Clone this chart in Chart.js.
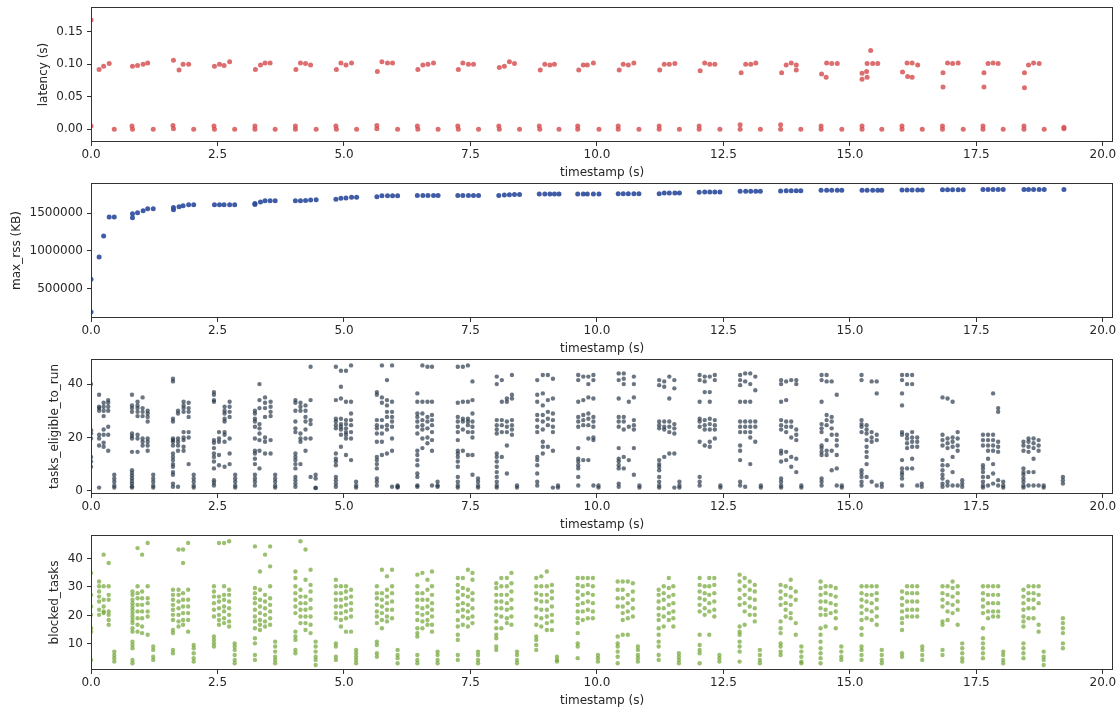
<!DOCTYPE html>
<html>
<head>
<meta charset="utf-8">
<script src="https://cdn.jsdelivr.net/npm/chart.js@4.4.1/dist/chart.umd.min.js"></script>
<style>
  html, body { margin: 0; padding: 0; background: #fff; }
  #wrap { position: relative; width: 1119px; height: 708px; overflow: hidden; }
  .panel { position: absolute; left: 0; width: 1119px; height: 180px; }
</style>
</head>
<body>
<div id="wrap">
  <div class="panel" style="top:0px"><canvas id="latencyChart" width="1119" height="180"></canvas></div>
  <div class="panel" style="top:176px"><canvas id="rssChart" width="1119" height="180"></canvas></div>
  <div class="panel" style="top:352px"><canvas id="eligibleChart" width="1119" height="180"></canvas></div>
  <div class="panel" style="top:528px"><canvas id="blockedChart" width="1119" height="180"></canvas></div>
</div>
<script>
// shared x axis
const xTicks = [0, 2.5, 5, 7.5, 10, 12.5, 15, 17.5, 20];

// latency (s): [timestamp, value]
const latencyTicks = [0, 0.05, 0.1, 0.15];
const latencyPoints = [
  [0.0, 0.168], [0.0, 0.005], [0.16, 0.092], [0.25, 0.097], [0.36, 0.101], [0.46, 0.0],
  [0.81, 0.005], [0.82, 0.0], [0.82, 0.097], [0.92, 0.098], [1.03, 0.1], [1.12, 0.102], [1.23, 0.0],
  [1.62, 0.006], [1.63, 0.001], [1.63, 0.106], [1.74, 0.091], [1.82, 0.1], [1.93, 0.1], [2.03, 0.0],
  [2.43, 0.005], [2.44, 0.0], [2.44, 0.097], [2.54, 0.1], [2.63, 0.098], [2.74, 0.104], [2.84, 0.0],
  [3.24, 0.005], [3.24, 0.0], [3.25, 0.092], [3.35, 0.099], [3.44, 0.102], [3.54, 0.102], [3.64, 0.0],
  [4.04, 0.005], [4.04, 0.0], [4.05, 0.092], [4.14, 0.102], [4.24, 0.101], [4.34, 0.099], [4.45, 0.0],
  [4.84, 0.005], [4.85, 0.0], [4.85, 0.092], [4.94, 0.102], [5.04, 0.099], [5.15, 0.102], [5.25, 0.0],
  [5.65, 0.006], [5.65, 0.001], [5.66, 0.089], [5.75, 0.104], [5.86, 0.102], [5.96, 0.102], [6.06, 0.0],
  [6.45, 0.005], [6.46, 0.0], [6.46, 0.092], [6.56, 0.099], [6.66, 0.1], [6.77, 0.102], [6.86, 0.0],
  [7.25, 0.005], [7.26, 0.0], [7.26, 0.092], [7.35, 0.102], [7.46, 0.1], [7.56, 0.1], [7.66, 0.0],
  [8.06, 0.005], [8.07, 0.0], [8.07, 0.095], [8.17, 0.097], [8.27, 0.104], [8.37, 0.101], [8.47, 0.0],
  [8.86, 0.005], [8.87, 0.0], [8.88, 0.091], [8.97, 0.1], [9.07, 0.099], [9.16, 0.1], [9.25, 0.0],
  [9.62, 0.005], [9.62, 0.0], [9.64, 0.091], [9.73, 0.099], [9.81, 0.099], [9.93, 0.102], [10.04, 0.0],
  [10.42, 0.005], [10.42, 0.0], [10.44, 0.091], [10.52, 0.1], [10.62, 0.099], [10.73, 0.102], [10.83, 0.0],
  [11.23, 0.005], [11.23, 0.0], [11.24, 0.091], [11.33, 0.1], [11.43, 0.1], [11.54, 0.101], [11.63, 0.0],
  [12.02, 0.005], [12.02, 0.0], [12.04, 0.09], [12.13, 0.102], [12.23, 0.1], [12.33, 0.1], [12.43, 0.0],
  [12.83, 0.007], [12.83, 0.0], [12.85, 0.087], [12.94, 0.1], [13.04, 0.1], [13.14, 0.102], [13.23, 0.0],
  [13.63, 0.007], [13.63, 0.0], [13.65, 0.087], [13.74, 0.099], [13.84, 0.102], [13.94, 0.099], [13.94, 0.091], [14.03, 0.0],
  [14.43, 0.005], [14.43, 0.0], [14.44, 0.085], [14.53, 0.08], [14.54, 0.102], [14.64, 0.101], [14.75, 0.101], [14.84, 0.0],
  [15.24, 0.005], [15.24, 0.0], [15.24, 0.086], [15.24, 0.077], [15.33, 0.089], [15.34, 0.08], [15.34, 0.101],
  [15.41, 0.121], [15.45, 0.101], [15.55, 0.101], [15.63, 0.0],
  [16.03, 0.005], [16.03, 0.0], [16.04, 0.088], [16.13, 0.102], [16.14, 0.081], [16.23, 0.08], [16.23, 0.102], [16.34, 0.099], [16.43, 0.0],
  [16.83, 0.005], [16.83, 0.0], [16.84, 0.087], [16.84, 0.065], [16.93, 0.102], [17.03, 0.101], [17.14, 0.102], [17.24, 0.0],
  [17.63, 0.005], [17.63, 0.0], [17.65, 0.087], [17.65, 0.065], [17.73, 0.101], [17.83, 0.102], [17.93, 0.101], [18.03, 0.0],
  [18.44, 0.005], [18.44, 0.0], [18.45, 0.087], [18.45, 0.064], [18.53, 0.099], [18.63, 0.102], [18.74, 0.101], [18.84, 0.0],
  [19.23, 0.003], [19.23, 0.001],
];

// max_rss (KB): [timestamp, value]
const rssTicks = [500000, 1000000, 1500000];
const rssPoints = [
  [0.0, 197000], [0.0, 627000], [0.16, 921000], [0.25, 1197000], [0.36, 1447000], [0.46, 1447000],
  [0.82, 1439000], [0.82, 1491000], [0.92, 1504000], [1.03, 1531000], [1.12, 1557000], [1.23, 1557000],
  [1.63, 1544000], [1.63, 1574000], [1.74, 1583000], [1.82, 1596000], [1.93, 1610000], [2.03, 1610000],
  [2.44, 1610000], [2.54, 1610000], [2.63, 1610000], [2.74, 1610000], [2.84, 1610000],
  [3.24, 1612000], [3.24, 1625000], [3.35, 1645000], [3.44, 1662000], [3.54, 1662000], [3.64, 1662000],
  [4.04, 1662000], [4.14, 1662000], [4.24, 1666000], [4.34, 1670000], [4.45, 1675000],
  [4.84, 1680000], [4.94, 1693000], [5.04, 1697000], [5.15, 1706000], [5.25, 1706000],
  [5.65, 1715000], [5.75, 1728000], [5.86, 1728000], [5.96, 1728000], [6.06, 1728000],
  [6.45, 1732000], [6.56, 1732000], [6.66, 1732000], [6.77, 1732000], [6.86, 1732000],
  [7.25, 1732000], [7.35, 1732000], [7.46, 1732000], [7.56, 1732000], [7.66, 1732000],
  [8.06, 1732000], [8.17, 1737000], [8.27, 1741000], [8.37, 1745000], [8.47, 1745000],
  [8.86, 1750000], [8.97, 1750000], [9.07, 1750000], [9.16, 1750000], [9.25, 1750000],
  [9.62, 1750000], [9.73, 1750000], [9.81, 1750000], [9.93, 1750000], [10.04, 1750000],
  [10.42, 1752000], [10.52, 1754000], [10.62, 1754000], [10.73, 1754000], [10.83, 1754000],
  [11.23, 1754000], [11.33, 1763000], [11.43, 1763000], [11.54, 1763000], [11.63, 1763000],
  [12.02, 1772000], [12.13, 1776000], [12.23, 1776000], [12.33, 1776000], [12.43, 1776000],
  [12.83, 1785000], [12.94, 1785000], [13.04, 1785000], [13.14, 1785000], [13.23, 1785000],
  [13.63, 1790000], [13.74, 1794000], [13.84, 1794000], [13.94, 1794000], [14.03, 1794000],
  [14.43, 1798000], [14.54, 1798000], [14.64, 1798000], [14.75, 1798000], [14.84, 1798000],
  [15.24, 1798000], [15.34, 1798000], [15.45, 1798000], [15.55, 1798000], [15.63, 1798000],
  [16.03, 1803000], [16.13, 1803000], [16.23, 1803000], [16.34, 1803000], [16.43, 1803000],
  [16.83, 1807000], [16.93, 1807000], [17.03, 1807000], [17.14, 1807000], [17.24, 1807000],
  [17.63, 1811000], [17.73, 1811000], [17.83, 1811000], [17.93, 1811000], [18.03, 1811000],
  [18.44, 1811000], [18.53, 1811000], [18.63, 1811000], [18.74, 1811000], [18.84, 1811000],
  [19.23, 1811000],
];

// tasks_eligible_to_run: one timestamp per column, values per column
const eligibleTicks = [0, 20, 40];
const eligibleTimes = [
  0.0, 0.16, 0.25, 0.34, 0.46,
  0.81, 0.92, 1.02, 1.12, 1.23,
  1.62, 1.72, 1.83, 1.93, 2.03,
  2.43, 2.53, 2.64, 2.74, 2.85,
  3.24, 3.33, 3.44, 3.55, 3.64,
  4.04, 4.14, 4.24, 4.34, 4.44,
  4.84, 4.94, 5.04, 5.14, 5.24,
  5.65, 5.75, 5.85, 5.95, 6.06,
  6.45, 6.55, 6.65, 6.74, 6.85,
  7.25, 7.35, 7.45, 7.54, 7.65,
  8.02, 8.12, 8.22, 8.32, 8.42,
  8.82, 8.93, 9.03, 9.13, 9.23,
  9.63, 9.73, 9.83, 9.93, 10.03,
  10.43, 10.53, 10.63, 10.73, 10.84,
  11.23, 11.33, 11.43, 11.53, 11.63,
  12.03, 12.13, 12.23, 12.33, 12.44,
  12.83, 12.93, 13.03, 13.13, 13.24,
  13.64, 13.74, 13.84, 13.94, 14.04,
  14.44, 14.54, 14.64, 14.74, 14.84,
  15.23, 15.33, 15.43, 15.53, 15.63,
  16.03, 16.13, 16.23, 16.33, 16.42,
  16.83, 16.93, 17.03, 17.13, 17.22,
  17.63, 17.73, 17.83, 17.93, 18.03,
  18.43, 18.53, 18.63, 18.73, 18.83,
  19.21,
];
const eligibleCols = [
  [40, 22.7, 21.5, 19.6, 12.7, 11, 9],
  [36, 31.5, 31, 30, 21, 19.6, 17, 1.2],
  [33, 31.5, 30, 28, 23, 21, 18, 16.5],
  [34, 33, 31.5, 30, 24, 21, 15],
  [6, 4.6, 3.4, 2, 1.2],
  [36, 32, 31, 29.6, 21.5, 20.5, 19.6, 14.6, 7.7, 6.7, 5.7, 4.7, 3.7, 2.7, 1.7, 1.2],
  [33.4, 32, 31, 29.6, 28, 21, 19.6, 14.6],
  [35, 31, 29.6, 28, 19.6, 18.4, 17],
  [30, 29, 27.7, 26, 19.6, 18.4, 17, 15],
  [6, 4.6, 3.4, 2, 1.2],
  [42, 41, 27, 26, 19.6, 19, 18.4, 17, 14, 12.7, 11.5, 10, 9, 7, 6, 2.7, 1.5],
  [30, 29, 19.6, 18.4, 17, 15, 1.5],
  [33.4, 32, 31, 29.6, 22, 20, 19, 16.5, 15],
  [33, 31, 29.6, 27.7, 22, 20, 10],
  [6, 4.6, 3.4, 2, 1.2],
  [37, 36, 34, 33.4, 19, 18, 16, 14, 12.7, 11, 8.4, 4, 3, 2],
  [22, 19.6, 18.4, 13.4, 9.6],
  [31.5, 30, 29, 27, 26, 22, 21, 18.4, 9],
  [33.4, 31.5, 29.6, 27.7, 19.6, 14, 10],
  [6, 4.6, 3.4, 2, 1.2],
  [30, 29, 27, 26, 24, 19.6, 15, 14, 12, 10, 6, 4.6, 3.4, 2],
  [40, 34, 31, 25, 23.4, 21.5, 19, 15, 8.4],
  [35, 33, 31, 27.7, 20, 18.4, 14],
  [33.4, 31.5, 29.6, 28, 19, 14],
  [6, 4.6, 3.4, 2, 1.2],
  [34, 33, 30, 26, 23.4, 22, 14, 12.7, 11.5, 10, 8.4, 5.2, 4, 2.7, 1.5],
  [33, 31.5, 30, 21.5, 19.6, 18.4, 10],
  [32, 30, 27.7, 26, 23, 19.6, 15],
  [46.5, 34, 26.5, 25, 19.6, 5.2],
  [6, 4.6, 1.2, 1],
  [46.5, 34, 27, 26, 24.6, 23.4, 14, 12, 11, 9.6, 5.2, 4, 2.7, 1.5],
  [45, 39, 34.6, 27, 25, 24, 23, 21, 16.5],
  [45, 33.4, 26.5, 25, 23.4, 22, 21, 19.6, 13.4],
  [47, 33.4, 29, 26.5, 24.6, 22, 19.6, 11.5],
  [3.4, 2, 1.2],
  [37, 36, 26.5, 24.6, 23.4, 21.5, 18.4, 12.7, 11.5, 10, 8.4, 4.6, 3.4, 2],
  [47, 35, 33, 26.5, 24, 21.5, 18.4, 13.4],
  [41.5, 34, 32, 29.6, 27.7, 24.6, 23, 14],
  [47, 33.4, 29.6, 27.7, 26, 24, 19.6, 15, 1.5],
  [2, 1.5, 1.2],
  [36.5, 33.4, 29, 27.7, 26, 24, 21.5, 15, 13.4, 11.5, 9.6, 6.5, 5.2, 2, 1.5],
  [47, 33.4, 29, 26.5, 24.6, 23, 19.6, 16],
  [46.5, 33.4, 27.7, 26, 23.4, 20, 17.8],
  [46.5, 33.4, 28.4, 26.5, 24.6, 22, 19, 15, 2],
  [3.4, 2, 1.5],
  [46.5, 33, 27.7, 26, 24, 22, 19, 15, 14, 12.7, 11, 9, 5.2, 3.4, 2, 1.2],
  [46.5, 33.4, 27, 26, 23, 15],
  [47, 33.4, 27, 26, 24.6, 22, 13.4],
  [41, 34, 29, 26, 24, 22, 20, 13.4, 6],
  [4.6, 3.4, 2, 1.2],
  [42.8, 40, 26.5, 24.6, 23, 21.5, 14, 12.7, 11, 9, 7, 5.2, 3.4, 2, 1.2],
  [41.5, 33.4, 26.5, 24.6, 22, 12.7],
  [34.6, 33.4, 26, 24, 22, 17, 6.5],
  [43.4, 36, 34.6, 26.5, 24.6, 23, 21],
  [2, 1.2],
  [41.5, 36, 33.4, 28.4, 26.5, 24, 22, 12.7, 11.5, 9.6, 6.5, 3.4, 2],
  [43.4, 36.5, 32, 28.4, 26, 23, 18.4, 16.5, 14],
  [43.4, 34, 29.6, 27, 24.6, 16.5],
  [42, 34.6, 29, 26.5, 24, 22, 15, 1.2],
  [2, 1.2],
  [43.4, 41.5, 33.4, 27.7, 26, 24, 16, 12, 11, 9.6, 8.4, 5.2, 2],
  [42.8, 34, 28.4, 26.5, 24.6, 11.5],
  [42.8, 40, 35, 29, 27, 24.6, 19.6, 11.5],
  [43.4, 41.5, 34.6, 27.7, 26, 24, 20, 19, 2],
  [2, 1.2],
  [44, 41.5, 34.6, 27.7, 26, 24, 16, 12, 11, 9.6, 8.4, 2.7, 1.5],
  [44, 42, 40, 27.7, 26, 23, 12.7, 8.4],
  [33.4, 24, 11.5],
  [42.8, 40, 35, 26.5, 24.6, 23, 16, 6],
  [2, 1.2],
  [41.5, 39.6, 26, 24.6, 23.4, 11.5, 10, 9, 7.7, 5.2, 3.4, 2, 1.2],
  [41, 39, 26, 24, 23, 12.7],
  [42.8, 34.6, 26, 24, 22, 14],
  [41.5, 38.4, 25, 23.4, 21.5, 14, 1.2],
  [3.4, 2, 1.2],
  [43.4, 41.5, 33.4, 27, 26, 24, 18.4, 5.2, 3.4, 2],
  [42.8, 41, 37, 26.5, 24.6, 23, 17],
  [42.8, 37, 33.4, 27, 25, 23, 18.4, 16.5],
  [43.4, 41.5, 26.5, 24.6, 23, 19.6],
  [2, 1.2],
  [43.4, 41.5, 39.6, 33.4, 26, 24, 22, 17, 15, 11.5, 3.4, 2],
  [44, 41, 33.4, 26, 24, 22, 1.5],
  [44, 40, 33.4, 26, 24, 22, 20, 10],
  [42.8, 37.7, 26, 24, 18.4],
  [2, 1.2],
  [41.5, 40, 33.4, 26.5, 24.6, 23, 15, 14, 11, 4.6, 3.4, 2, 1.2],
  [41, 34, 26, 24, 22, 14.6, 11.5],
  [41.5, 26, 24, 20, 12.7, 9],
  [41.5, 40, 23, 21, 19, 12, 7],
  [2, 1.2],
  [43.4, 41.5, 33.4, 25, 23.4, 22, 17, 16, 14.6, 13.4, 4.6, 3.4, 2],
  [43.4, 41, 28.4, 26.5, 24.6, 19, 15, 13.4],
  [41, 27.7, 26, 23.4, 21, 15, 7.7],
  [36, 21, 19, 17, 13.4, 8.4, 2],
  [2, 1.2],
  [43.4, 41.5, 26.5, 25, 24, 22, 7.7, 6.5, 5.2, 3.4, 2],
  [24.6, 23, 21.5, 19, 16.5, 14.6, 12.7, 10, 5.2],
  [41, 22, 20, 18.4, 3.4],
  [41, 36.5, 21, 19, 2],
  [2.7, 1.5],
  [43.4, 41.5, 36.5, 32, 22, 21, 11.5, 8.4, 7, 6, 4.6, 2],
  [43.4, 40, 21, 19.6, 17.8, 16, 8.4],
  [43.4, 40, 22, 20, 18.4, 16.5, 12, 8.4],
  [20, 18.4, 16.5, 2],
  [2.7, 1.5],
  [35, 21, 19, 17, 11.5, 9.6, 7.7, 6, 4.6, 2.7, 1.5],
  [34.6, 19.6, 17.8, 16, 9.6, 3.4, 2],
  [33.4, 20, 18.4, 16.5, 12.7, 7, 2],
  [22, 19.6, 17, 15, 2],
  [4, 2.7, 1.5],
  [21, 19, 17, 9.6, 8.4, 7, 5.2, 3.4, 2, 1.2],
  [21, 19, 17, 15, 12, 5.2, 2],
  [36.5, 21, 19, 17, 15, 10, 6.5, 2.7],
  [31, 29.6, 18.4, 16.5, 14.6, 4, 2],
  [3.4, 2, 1.2],
  [18.4, 17, 15, 8.4, 7, 6, 4.6, 3.4, 2, 1.2],
  [19.6, 18.4, 16.5, 14.6, 7, 2],
  [19.6, 17.8, 16, 12, 7, 2],
  [19, 17, 15, 2],
  [2, 1.2],
  [5.2, 4, 2.7],
];

// blocked_tasks: one timestamp per column, values per column
const blockedTicks = [10, 20, 30, 40];
const blockedTimes = [
  0.0, 0.16, 0.25, 0.35, 0.46,
  0.82, 0.92, 1.01, 1.12, 1.23,
  1.62, 1.73, 1.82, 1.92, 2.03,
  2.43, 2.53, 2.63, 2.73, 2.84,
  3.24, 3.34, 3.44, 3.54, 3.64,
  4.04, 4.14, 4.24, 4.34, 4.44,
  4.84, 4.94, 5.04, 5.14, 5.24,
  5.65, 5.75, 5.85, 5.95, 6.06,
  6.45, 6.55, 6.65, 6.74, 6.85,
  7.25, 7.35, 7.45, 7.54, 7.65,
  8.01, 8.11, 8.22, 8.31, 8.42,
  8.80, 8.90, 9.01, 9.11, 9.21,
  9.62, 9.72, 9.82, 9.92, 10.02,
  10.41, 10.51, 10.61, 10.71, 10.81,
  11.22, 11.32, 11.42, 11.51, 11.62,
  12.03, 12.13, 12.22, 12.32, 12.42,
  12.82, 12.92, 13.02, 13.12, 13.22,
  13.63, 13.73, 13.83, 13.93, 14.04,
  14.42, 14.52, 14.62, 14.72, 14.83,
  15.23, 15.33, 15.43, 15.53, 15.63,
  16.03, 16.13, 16.23, 16.33, 16.43,
  16.83, 16.93, 17.03, 17.13, 17.22,
  17.63, 17.73, 17.83, 17.93, 18.03,
  18.43, 18.53, 18.63, 18.73, 18.83,
  19.21,
];
const blockedCols = [
  [34.9, 27.2, 23.1, 20.2, 15.5, 14.3, 4.4],
  [31.9, 30.2, 28.4, 26.6, 24.9, 22, 20.2],
  [41.3, 30.2, 25.5, 23.1, 21.4, 20.8],
  [38.4, 30.2, 27.2, 25.5, 21.4, 20.2, 18.4, 16.7],
  [7.3, 6.1, 5, 3.8],
  [28.4, 27.2, 25.5, 24.3, 23.1, 22, 20.8, 19.6, 18.4, 17.3, 15.5, 14.3, 10.8, 9.6, 8.5, 4.4, 3.2],
  [43.6, 30.2, 27.8, 26, 23.7, 21.4, 19, 16.7, 14.3],
  [41.3, 28.4, 26, 23.7, 21.4, 19, 16.1, 13.8],
  [45.4, 30.2, 26, 24.3, 21.4, 19.6, 13.2],
  [9.1, 7.9, 5.5, 4.4],
  [29, 27.2, 25.5, 23.7, 22, 20.2, 18.4, 14.9, 13.8, 7.9, 6.7],
  [43.1, 29, 27.2, 24.9, 22.5, 20.2, 17.9, 16.1],
  [43.1, 38.4, 27.8, 25.5, 23.1, 20.8, 18.4, 16.7],
  [45.4, 29, 25.5, 23.1, 20.8, 18.4, 14.3],
  [9.6, 8.5, 6.7, 5, 3.8],
  [30.2, 28.4, 26.6, 24.3, 22, 19.6, 12.6, 11.4, 10.2, 9.1],
  [45.4, 26.6, 24.9, 22.5, 20.2, 18.4, 16.7],
  [45.4, 30.2, 27.2, 25.5, 23.1, 21.4, 19, 17.3],
  [46, 29, 27.2, 24.9, 22.5, 20.2, 17.9, 16.1],
  [10.2, 9.1, 7.9, 6.1, 4.4, 3.2],
  [44.2, 29.6, 27.8, 26, 24.3, 22, 19.6, 17.9, 15.5, 12, 10.2, 6.1, 4.4],
  [35.4, 29, 25.5, 23.1, 20.8, 18.4, 16.7, 14.9],
  [41.3, 27.2, 24.9, 22.5, 20.2, 17.9, 16.1],
  [44.2, 37.2, 30.2, 26, 23.7, 21.4, 19, 16.7],
  [10.8, 9.1, 7.3, 5.5, 4.4, 3.2],
  [35.4, 33.1, 30.2, 27.8, 25.5, 23.1, 20.8, 14.3, 12.6, 11.4, 7.9, 6.7],
  [46, 29, 26.6, 24.3, 22, 19.6, 17.3],
  [43.1, 32.5, 26.6, 24.3, 22, 19.6, 17.3, 14.9],
  [36, 30.7, 28.4, 25.5, 22.5, 19.6, 16.7, 13.8],
  [10.8, 9.1, 7.3, 5.5, 4.4, 2.6],
  [32.5, 30.2, 27.8, 25.5, 23.1, 20.8, 19, 10.2, 9.1, 5.5, 4.4],
  [30.2, 27.8, 25.5, 23.1, 20.8, 18.4, 16.1],
  [30.2, 28.4, 26, 23.7, 21.4, 19, 14.3],
  [29, 26.6, 24.3, 22, 19.6, 14.3],
  [7.9, 6.7, 5.5, 4.4, 3.2],
  [30.2, 27.8, 26, 23.7, 21.4, 19.6, 17.3, 10.8, 9.6, 6.7, 5.5],
  [36, 27.8, 25.5, 23.1, 20.8, 18.4, 15.5],
  [33.7, 29, 26.6, 24.3, 22, 19.6, 17.9],
  [36, 30.2, 27.8, 24.9, 22, 19],
  [7.9, 6.1, 5, 3.2],
  [34.3, 30.2, 27.8, 25.5, 23.1, 20.8, 18.4, 15.5, 13.8, 12.6, 6.1, 4.4, 3.2],
  [34.9, 27.8, 25.5, 22.5, 20.2, 17.9, 15.5],
  [32.5, 29, 25.5, 23.1, 20.8, 18.4, 16.7],
  [35.4, 30.2, 27.2, 24.3, 22, 19.6, 16.7, 14.3],
  [7.3, 6.1, 4.4, 3.2],
  [33.1, 30.7, 28.4, 26, 23.7, 21.4, 18.4, 16.1, 13.2, 11.4, 6.1, 4.4],
  [33.1, 29.6, 27.2, 24.3, 22, 19.6, 16.7],
  [36, 29, 26.6, 23.7, 21.4, 19, 16.1],
  [34.9, 32.5, 27.8, 25.5, 22.5, 19.6, 17.3],
  [7.3, 6.1, 4.4, 3.2],
  [31.3, 29.6, 27.2, 24.9, 22.5, 20.2, 17.9, 15.5, 13.2, 12, 9.1, 7.9],
  [33.1, 30.2, 27.2, 24.9, 22.5, 19.6, 15.5],
  [33.1, 30.2, 27.2, 24.3, 22, 19, 17.3],
  [34.9, 31.3, 28.4, 25.5, 22.5, 19.6, 16.7],
  [7.3, 6.1, 4.4, 3.2],
  [33.1, 30.2, 27.8, 25.5, 22.5, 19.6, 16.7, 12.6, 11.4, 9.6, 7.9],
  [33.7, 30.2, 27.2, 24.9, 22, 19, 16.1],
  [35.4, 30.2, 27.2, 24.9, 22, 19.6, 17.3, 14.9],
  [30.7, 28.4, 26, 23.1, 20.2, 17.9, 14.9],
  [5.5, 4.4, 3.8],
  [33.1, 30.7, 28.4, 26, 23.7, 21.4, 19, 17.3, 13.8, 10.2, 9.1, 5],
  [33.1, 30.2, 27.2, 24.3, 21.4, 18.4],
  [33.1, 30.7, 27.8, 24.9, 22, 19],
  [33.1, 30.2, 27.2, 24.3, 21.4, 19],
  [6.1, 5, 3.8],
  [31.9, 29, 26, 23.1, 12.6, 10.2, 9.1, 7.3, 5.5, 3.2],
  [31.9, 29, 26, 23.1, 20.8, 18.4, 13.2],
  [31.9, 27.2, 24.3, 21.4, 19, 13.2],
  [31.3, 28.4, 25.5, 22.5, 19.6],
  [9.1, 7.9, 6.1, 5, 3.8],
  [29, 27.2, 24.9, 22.5, 20.2, 18.4, 15.5, 13.2, 10.8, 9.1, 6.1, 4.4],
  [30.2, 27.8, 25.5, 22.5, 19.6, 16.1],
  [33.1, 29.6, 26.6, 23.7, 20.8, 18.4],
  [30.2, 27.2, 24.3, 21.4, 19, 16.1],
  [6.7, 5.5, 4.4, 3.2],
  [33.1, 30.7, 28.4, 26, 23.7, 21.4, 13.2, 9.6, 7.9, 6.7, 3.2],
  [30.2, 27.8, 25.5, 22.5, 20.2],
  [33.1, 30.2, 27.2, 24.3, 21.4, 13.2],
  [33.1, 30.7, 27.8, 24.9, 22, 19.6],
  [6.1, 5, 3.8],
  [34.3, 31.9, 29, 26, 23.7, 16.1, 14.3, 13.2, 10.8, 9.1, 7.3, 3.8],
  [33.1, 30.2, 27.2, 24.3, 21.4, 16.7],
  [31.9, 29, 26, 23.1, 20.2],
  [30.7, 28.4, 25.5, 22.5, 20.2, 17.9],
  [7.9, 6.1, 4.4, 3.2],
  [30.7, 28.4, 26, 23.7, 17.9, 15.5, 13.8, 10.2, 9.1, 7.3, 6.1],
  [30.2, 27.2, 24.3, 22, 19.6],
  [32.5, 29.6, 26.6, 23.7, 20.8, 19],
  [28.4, 25.5, 17.3, 13.2],
  [9.1, 7.3, 5.5, 3.8, 3.2],
  [31.9, 29.6, 27.2, 24.9, 22.5, 20.2, 15.5, 13.2, 10.8, 8.5, 6.7, 5, 3.2],
  [30.2, 27.8, 24.9, 22, 20.2, 16.1],
  [30.2, 27.2, 24.3, 20.8],
  [29.6, 26.6, 23.7, 21.4, 19, 15.5],
  [9.1, 7.3, 5.5, 4.4],
  [30.2, 27.8, 25.5, 23.1, 20.8, 18.4, 15.5, 13.2, 9.1, 7.9, 6.1, 4.4],
  [30.2, 27.2, 24.9, 22, 19],
  [30.2, 27.2, 24.3, 21.4, 18.4],
  [30.2, 27.8, 25.5, 22.5, 19.6, 16.7],
  [7.9, 6.1, 4.4, 3.2],
  [28.4, 26, 23.7, 21.4, 19, 17.3, 14.9, 6.7, 5.5],
  [30.2, 27.8, 24.9, 22, 19.6],
  [30.2, 27.8, 24.9, 22, 19.6],
  [30.2, 27.8, 24.9, 22, 19.6],
  [9.1, 7.9, 6.1, 4.4],
  [30.2, 27.8, 25.5, 23.1, 17.9, 16.7, 7.9, 6.1],
  [30.2, 27.2, 24.3, 21.4, 18.4],
  [31.9, 29.6, 26.6, 23.7, 20.8],
  [30.2, 27.8, 24.9, 22, 16.7],
  [10.2, 8.5, 6.7, 5, 3.8],
  [30.2, 27.8, 25.5, 23.1, 20.8, 15.5, 12, 10.2, 8.5, 6.7, 5],
  [30.2, 27.2, 24.3, 21.4, 19],
  [30.2, 27.2, 24.3, 21.4, 19.6],
  [30.2, 27.2, 24.3, 21.4, 19.6],
  [7.3, 6.1, 4.4, 3.2],
  [29, 26.6, 24.3, 22, 19.6, 17.9, 16.1, 10.2, 8.5, 6.7, 5],
  [30.2, 27.8, 25.5, 22.5, 19],
  [30.2, 27.8, 25.5, 22.5, 19],
  [30.2, 27.2, 24.3, 16.7, 14.3],
  [7.3, 5.5, 4.4, 2.6],
  [19, 17.3, 15.5, 13.8, 10.2, 8.5],
];

function pairsToPoints(pairs) {
  return pairs.map(([x, y]) => ({ x: x, y: y }));
}

function columnsToPoints(times, cols) {
  const pts = [];
  times.forEach((t, i) => {
    cols[i].forEach((v) => pts.push({ x: t, y: v }));
  });
  return pts;
}

const FONT = { family: "'DejaVu Sans', sans-serif", size: 12 };
const INK = "#262626";
const FRAME = "#333333";

// draws the full box around the plot area (matplotlib style spines)
const frameBox = {
  id: "frameBox",
  afterDatasetsDraw(chart) {
    const a = chart.chartArea;
    const ctx = chart.ctx;
    ctx.save();
    ctx.strokeStyle = FRAME;
    ctx.lineWidth = 1;
    ctx.strokeRect(a.left + 0.5, a.top + 0.5, a.right - a.left - 1, a.bottom - a.top - 1);
    ctx.restore();
  },
};

function makePanel(id, cfg) {
  const ctx = document.getElementById(id).getContext("2d");
  return new Chart(ctx, {
    type: "scatter",
    data: {
      datasets: [
        {
          data: cfg.points,
          backgroundColor: cfg.color,
          borderWidth: 0,
          pointRadius: cfg.radius,
          pointHoverRadius: cfg.radius,
          clip: 0,
        },
      ],
    },
    options: {
      responsive: false,
      animation: false,
      events: [],
      layout: { padding: { top: 7, right: 6, bottom: 0, left: cfg.leftPad } },
      plugins: { legend: { display: false }, tooltip: { enabled: false } },
      scales: {
        x: {
          type: "linear",
          min: 0,
          max: 20.2,
          afterBuildTicks: (s) => { s.ticks = xTicks.map((v) => ({ value: v })); },
          afterFit: (s) => {
            s.height = 38;
            s.paddingLeft = 0;
            s.paddingRight = 0;
          },
          ticks: {
            callback: (v) => Number(v).toFixed(1),
            font: FONT,
            color: INK,
            padding: 2,
            maxRotation: 0,
            autoSkip: false,
          },
          grid: { drawOnChartArea: false, drawTicks: true, tickLength: 4, color: FRAME },
          border: { display: false },
          title: { display: true, text: "timestamp (s)", font: FONT, color: INK, padding: 0 },
        },
        y: {
          type: "linear",
          min: cfg.yMin,
          max: cfg.yMax,
          afterBuildTicks: (s) => { s.ticks = cfg.yTicks.map((v) => ({ value: v })); },
          afterFit: (s) => {
            s.width = 91 - cfg.leftPad;
            s.paddingTop = 0;
            s.paddingBottom = 0;
          },
          ticks: {
            callback: cfg.yFormat,
            font: FONT,
            color: INK,
            padding: 4,
            autoSkip: false,
          },
          grid: { drawOnChartArea: false, drawTicks: true, tickLength: 4, color: FRAME },
          border: { display: false },
          title: { display: true, text: cfg.yTitle, font: FONT, color: INK, padding: 0 },
        },
      },
    },
    plugins: [frameBox],
  });
}

document.addEventListener("DOMContentLoaded", function () {
  // latency
  makePanel("latencyChart", {
    points: pairsToPoints(latencyPoints),
    color: "rgba(214, 78, 80, 0.82)",
    radius: 2.5,
    yMin: -0.0195,
    yMax: 0.188,
    yTicks: latencyTicks,
    yFormat: (v) => Number(v).toFixed(2),
    yTitle: "latency (s)",
    leftPad: 37,
  });

  // max rss
  makePanel("rssChart", {
    points: pairsToPoints(rssPoints),
    color: "rgba(48, 78, 158, 0.92)",
    radius: 2.5,
    yMin: 118000,
    yMax: 1895000,
    yTicks: rssTicks,
    yFormat: (v) => String(Math.round(v)),
    yTitle: "max_rss (KB)",
    leftPad: 10,
  });

  // tasks eligible to run
  makePanel("eligibleChart", {
    points: columnsToPoints(eligibleTimes, eligibleCols),
    color: "rgba(36, 52, 70, 0.68)",
    radius: 2.2,
    yMin: -1.2,
    yMax: 49.4,
    yTicks: eligibleTicks,
    yFormat: (v) => String(Math.round(v)),
    yTitle: "tasks_eligible_to_run",
    leftPad: 48,
  });

  // blocked tasks
  makePanel("blockedChart", {
    points: columnsToPoints(blockedTimes, blockedCols),
    color: "rgba(104, 160, 40, 0.66)",
    radius: 2.2,
    yMin: 0.85,
    yMax: 48.2,
    yTicks: blockedTicks,
    yFormat: (v) => String(Math.round(v)),
    yTitle: "blocked_tasks",
    leftPad: 48,
  });
});
</script>
</body>
</html>
